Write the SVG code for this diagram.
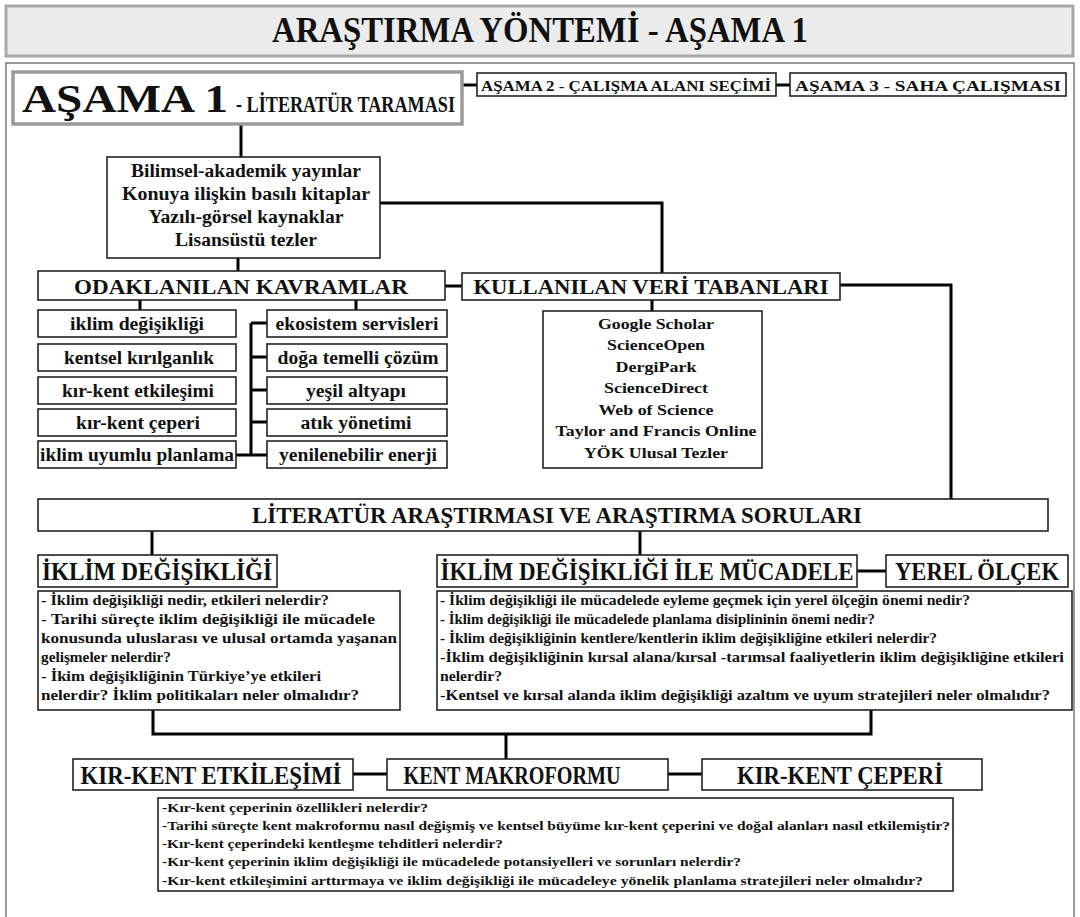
<svg xmlns="http://www.w3.org/2000/svg" width="1080" height="917" viewBox="0 0 1080 917" font-family="'Liberation Serif', 'DejaVu Serif', serif">
  <style>
    text { font-family: "Liberation Serif", "DejaVu Serif", serif; font-weight: bold; fill: #111; }
    .box { fill: #fff; stroke: #222; stroke-width: 1.6; }
    .stage { fill: #fff; stroke: #9a9a9a; stroke-width: 3.5; }
    .wire { fill: none; stroke: #000; stroke-width: 3; }
    .c { text-anchor: middle; }
  </style>
  <rect width="1080" height="917" fill="#fff"/>

  <!-- page title -->
  <g id="title">
    <rect x="6" y="6" width="1067" height="50" fill="#ececec" stroke="#a8a8a8" stroke-width="3"/>
    <text x="540" y="42" class="c" font-size="36" textLength="536" lengthAdjust="spacingAndGlyphs">ARAŞTIRMA YÖNTEMİ - AŞAMA 1</text>
  </g>

  <!-- outer frame -->
  <rect id="frame" x="6" y="63" width="1068" height="880" fill="none" stroke="#777" stroke-width="1.5"/>

  <!-- connectors -->
  <g id="connectors" class="wire">
    <path d="M462 85 H477"/>
    <path d="M776 85 H790"/>
    <path d="M241 124 V157"/>
    <path d="M380 203 H662 V273"/>
    <path d="M238 258 V271"/>
    <path d="M445 286 H462"/>
    <path d="M840 285 H951 V499"/>
    <path d="M652 300 V311"/>
    <path d="M140 300 V310"/>
    <path d="M356 300 V310"/>
    <path d="M251 323 V455"/>
    <path d="M251 323 H267 M251 357 H267 M251 390 H267 M251 422 H267 M251 455 H267"/>
    <path d="M236 455 H251"/>
    <path d="M152 531 V555"/>
    <path d="M640 531 V555"/>
    <path d="M857 571 H886"/>
    <path d="M153 710 V734 H871 V710"/>
    <path d="M506 734 V759"/>
    <path d="M353 774 H387"/>
    <path d="M668 774 H702"/>
  </g>

  <!-- stage tabs -->
  <g id="stage1">
    <rect class="stage" x="13" y="72" width="449" height="52"/>
    <text x="22" y="112" font-size="39" textLength="206" lengthAdjust="spacingAndGlyphs">AŞAMA 1</text>
    <text x="236" y="112" font-size="24" textLength="219" lengthAdjust="spacingAndGlyphs">- LİTERATÜR TARAMASI</text>
  </g>
  <g id="stage2">
    <rect class="box" x="477" y="73" width="299" height="23"/>
    <text x="626" y="91" class="c" font-size="15" textLength="290" lengthAdjust="spacingAndGlyphs">AŞAMA 2 - ÇALIŞMA ALANI SEÇİMİ</text>
  </g>
  <g id="stage3">
    <rect class="box" x="790" y="73" width="276" height="23"/>
    <text x="928" y="91" class="c" font-size="15" textLength="266" lengthAdjust="spacingAndGlyphs">AŞAMA 3 - SAHA ÇALIŞMASI</text>
  </g>

  <!-- source types -->
  <g id="sources" font-size="18">
    <rect class="box" x="107" y="157" width="273" height="101"/>
    <text x="246" y="177" class="c" textLength="230" lengthAdjust="spacingAndGlyphs">Bilimsel-akademik yayınlar</text>
    <text x="246" y="200" class="c" textLength="248" lengthAdjust="spacingAndGlyphs">Konuya ilişkin basılı kitaplar</text>
    <text x="246" y="223" class="c" textLength="195" lengthAdjust="spacingAndGlyphs">Yazılı-görsel kaynaklar</text>
    <text x="246" y="246" class="c" textLength="142" lengthAdjust="spacingAndGlyphs">Lisansüstü tezler</text>
  </g>

  <g id="concepts">
    <rect class="box" x="38" y="271" width="407" height="29"/>
    <text x="241" y="294" class="c" font-size="22" textLength="334" lengthAdjust="spacingAndGlyphs">ODAKLANILAN KAVRAMLAR</text>
  </g>
  <g id="databases-head">
    <rect class="box" x="462" y="273" width="378" height="27"/>
    <text x="651" y="294" class="c" font-size="21" textLength="355" lengthAdjust="spacingAndGlyphs">KULLANILAN VERİ TABANLARI</text>
  </g>

  <!-- concept list, left column -->
  <g font-size="18">
    <g id="c-iklim"><rect class="box" x="38" y="310" width="198" height="27"/><text x="137" y="330" class="c" textLength="134" lengthAdjust="spacingAndGlyphs">iklim değişikliği</text></g>
    <g id="c-kirilganlik"><rect class="box" x="38" y="344" width="198" height="27"/><text x="139" y="364" class="c" textLength="150" lengthAdjust="spacingAndGlyphs">kentsel kırılganlık</text></g>
    <g id="c-etkilesim"><rect class="box" x="38" y="377" width="198" height="27"/><text x="138" y="397" class="c" textLength="152" lengthAdjust="spacingAndGlyphs">kır-kent etkileşimi</text></g>
    <g id="c-ceper"><rect class="box" x="38" y="409" width="198" height="27"/><text x="138" y="429" class="c" textLength="124" lengthAdjust="spacingAndGlyphs">kır-kent çeperi</text></g>
    <g id="c-planlama"><rect class="box" x="38" y="441" width="198" height="27"/><text x="137" y="461" class="c" textLength="194" lengthAdjust="spacingAndGlyphs">iklim uyumlu planlama</text></g>
  </g>

  <!-- concept list, right column -->
  <g font-size="18">
    <g id="c-ekosistem"><rect class="box" x="267" y="310" width="180" height="27"/><text x="357" y="330" class="c" textLength="163" lengthAdjust="spacingAndGlyphs">ekosistem servisleri</text></g>
    <g id="c-doga"><rect class="box" x="267" y="344" width="180" height="27"/><text x="358" y="364" class="c" textLength="161" lengthAdjust="spacingAndGlyphs">doğa temelli çözüm</text></g>
    <g id="c-yesil"><rect class="box" x="267" y="377" width="180" height="27"/><text x="356" y="397" class="c" textLength="100" lengthAdjust="spacingAndGlyphs">yeşil altyapı</text></g>
    <g id="c-atik"><rect class="box" x="267" y="409" width="180" height="27"/><text x="356" y="429" class="c" textLength="111" lengthAdjust="spacingAndGlyphs">atık yönetimi</text></g>
    <g id="c-enerji"><rect class="box" x="267" y="441" width="180" height="27"/><text x="358" y="461" class="c" textLength="158" lengthAdjust="spacingAndGlyphs">yenilenebilir enerji</text></g>
  </g>

  <!-- database list -->
  <g id="databases" font-size="15.5">
    <rect class="box" x="543" y="311" width="219" height="157"/>
    <text x="656" y="329" class="c" textLength="116" lengthAdjust="spacingAndGlyphs">Google Scholar</text>
    <text x="656" y="350" class="c" textLength="98" lengthAdjust="spacingAndGlyphs">ScienceOpen</text>
    <text x="656" y="372" class="c" textLength="81" lengthAdjust="spacingAndGlyphs">DergiPark</text>
    <text x="656" y="393" class="c" textLength="104" lengthAdjust="spacingAndGlyphs">ScienceDirect</text>
    <text x="656" y="415" class="c" textLength="115" lengthAdjust="spacingAndGlyphs">Web of Science</text>
    <text x="656" y="436" class="c" textLength="201" lengthAdjust="spacingAndGlyphs">Taylor and Francis Online</text>
    <text x="656" y="458" class="c" textLength="144" lengthAdjust="spacingAndGlyphs">YÖK Ulusal Tezler</text>
  </g>

  <g id="research">
    <rect class="box" x="38" y="499" width="1010" height="32"/>
    <text x="557" y="523" class="c" font-size="23" textLength="610" lengthAdjust="spacingAndGlyphs">LİTERATÜR ARAŞTIRMASI VE ARAŞTIRMA SORULARI</text>
  </g>

  <g id="climate">
    <rect class="box" x="38" y="555" width="239" height="32"/>
    <text x="157" y="580" class="c" font-size="25" textLength="230" lengthAdjust="spacingAndGlyphs">İKLİM DEĞİŞİKLİĞİ</text>
  </g>
  <g id="combat">
    <rect class="box" x="437" y="555" width="420" height="32"/>
    <text x="647" y="580" class="c" font-size="25" textLength="413" lengthAdjust="spacingAndGlyphs">İKLİM DEĞİŞİKLİĞİ İLE MÜCADELE</text>
  </g>
  <g id="local">
    <rect class="box" x="886" y="555" width="182" height="32"/>
    <text x="977" y="580" class="c" font-size="25" textLength="164" lengthAdjust="spacingAndGlyphs">YEREL ÖLÇEK</text>
  </g>

  <g id="climate-questions" font-size="14">
    <rect class="box" x="38" y="591" width="362" height="119"/>
    <text x="41" y="605" textLength="288" lengthAdjust="spacingAndGlyphs">- İklim değişikliği nedir, etkileri nelerdir?</text>
    <text x="41" y="624" textLength="334" lengthAdjust="spacingAndGlyphs">- Tarihi süreçte iklim değişikliği ile mücadele</text>
    <text x="41" y="643" textLength="356" lengthAdjust="spacingAndGlyphs">konusunda uluslarası ve ulusal ortamda yaşanan</text>
    <text x="41" y="662" textLength="130" lengthAdjust="spacingAndGlyphs">gelişmeler nelerdir?</text>
    <text x="41" y="681" textLength="280" lengthAdjust="spacingAndGlyphs">- İkim değişikliğinin Türkiye’ye etkileri</text>
    <text x="41" y="700" textLength="318" lengthAdjust="spacingAndGlyphs">nelerdir? İklim politikaları neler olmalıdır?</text>
  </g>

  <g id="combat-questions" font-size="14">
    <rect class="box" x="437" y="591" width="635" height="119"/>
    <text x="440" y="605" textLength="530" lengthAdjust="spacingAndGlyphs">- İklim değişikliği ile mücadelede eyleme geçmek için yerel ölçeğin önemi nedir?</text>
    <text x="440" y="624" textLength="435" lengthAdjust="spacingAndGlyphs">- İklim değişikliği ile mücadelede planlama disiplininin önemi nedir?</text>
    <text x="440" y="643" textLength="497" lengthAdjust="spacingAndGlyphs">- İklim değişikliğinin kentlere/kentlerin iklim değişikliğine etkileri nelerdir?</text>
    <text x="440" y="662" textLength="624" lengthAdjust="spacingAndGlyphs">-İklim değişikliğinin kırsal alana/kırsal -tarımsal faaliyetlerin iklim değişikliğine etkileri</text>
    <text x="440" y="681" textLength="62" lengthAdjust="spacingAndGlyphs">nelerdir?</text>
    <text x="440" y="700" textLength="610" lengthAdjust="spacingAndGlyphs">-Kentsel ve kırsal alanda iklim değişikliği azaltım ve uyum stratejileri neler olmalıdır?</text>
  </g>

  <g id="interaction">
    <rect class="box" x="73" y="759" width="280" height="31"/>
    <text x="211" y="784" class="c" font-size="25" textLength="261" lengthAdjust="spacingAndGlyphs">KIR-KENT ETKİLEŞİMİ</text>
  </g>
  <g id="macroform">
    <rect class="box" x="387" y="759" width="281" height="31"/>
    <text x="512" y="784" class="c" font-size="25" textLength="217" lengthAdjust="spacingAndGlyphs">KENT MAKROFORMU</text>
  </g>
  <g id="fringe">
    <rect class="box" x="702" y="759" width="280" height="31"/>
    <text x="840" y="784" class="c" font-size="25" textLength="206" lengthAdjust="spacingAndGlyphs">KIR-KENT ÇEPERİ</text>
  </g>

  <g id="fringe-questions" font-size="13.5">
    <rect class="box" x="158" y="798" width="795" height="93"/>
    <text x="162" y="812" textLength="266" lengthAdjust="spacingAndGlyphs">-Kır-kent çeperinin özellikleri nelerdir?</text>
    <text x="162" y="830" textLength="788" lengthAdjust="spacingAndGlyphs">-Tarihi süreçte kent makroformu nasıl değişmiş ve kentsel büyüme kır-kent çeperini ve doğal alanları nasıl etkilemiştir?</text>
    <text x="162" y="848" textLength="341" lengthAdjust="spacingAndGlyphs">-Kır-kent çeperindeki kentleşme tehditleri nelerdir?</text>
    <text x="162" y="866" textLength="579" lengthAdjust="spacingAndGlyphs">-Kır-kent çeperinin iklim değişikliği ile mücadelede potansiyelleri ve sorunları nelerdir?</text>
    <text x="162" y="885" textLength="761" lengthAdjust="spacingAndGlyphs">-Kır-kent etkileşimini arttırmaya ve iklim değişikliği ile mücadeleye yönelik planlama stratejileri neler olmalıdır?</text>
  </g>
</svg>
